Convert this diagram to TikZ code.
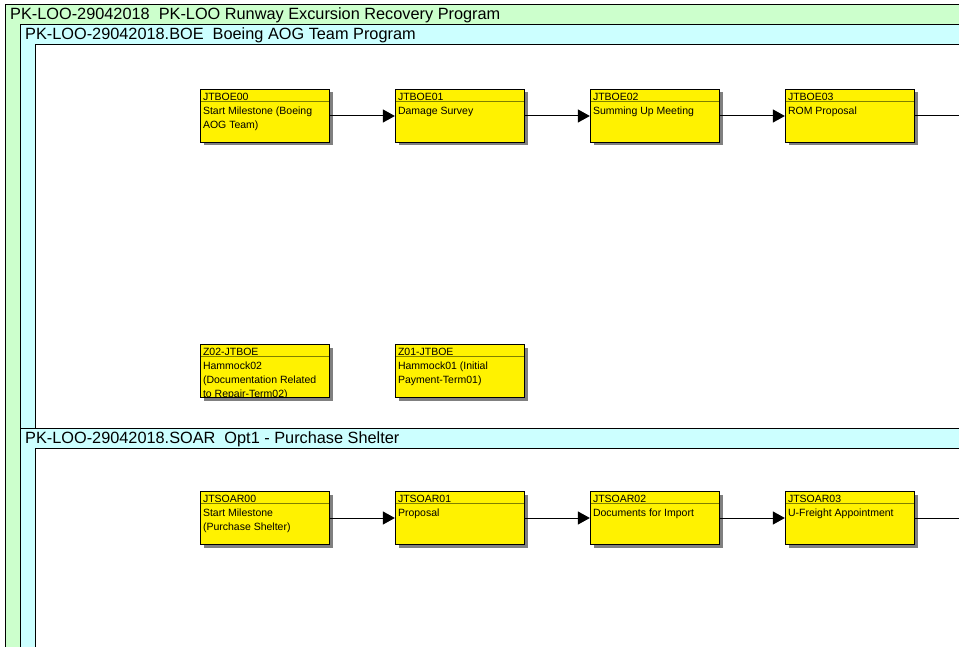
\documentclass[tikz,border=0pt]{standalone}
\usepackage{fontspec}
\setmainfont{Liberation Sans}
\usetikzlibrary{arrows.meta,shadows}
\definecolor{grpgreen}{RGB}{204,255,204}
\definecolor{grpcyan}{RGB}{204,255,255}
\definecolor{hdrolive}{RGB}{128,128,0}
\tikzset{
  frame/.style={draw=black, line width=1pt},
  grptitle/.style={anchor=base west, inner sep=0, font=\fontsize{16.3}{18}\selectfont},
  actbox/.style={draw=black, line width=1.3pt, fill=yellow, minimum width=129pt,
    minimum height=53pt, inner sep=0,
    general shadow={fill=black!50, shadow xshift=3pt, shadow yshift=-3pt}},
  boxtxt/.style={anchor=base west, inner sep=0, font=\fontsize{10.5}{12}\selectfont},
  hdrline/.style={draw=hdrolive, line width=1pt},
  conn/.style={draw=black, line width=1pt, -{Triangle[length=12pt,width=13pt]}},
  plainconn/.style={draw=black, line width=1pt},
}
\newcommand{\mkact}[6]{%
  \node[actbox] (#1) at (#2) {};
  \draw[hdrline] ([shift={(1pt,-13pt)}]#1.north west) -- ([shift={(-1pt,-13pt)}]#1.north east);
  \begin{scope}
    \clip ([shift={(0.7pt,-0.7pt)}]#1.north west) rectangle ([shift={(-0.7pt,0.7pt)}]#1.south east);
    \node[boxtxt] at ([shift={(3pt,-12pt)}]#1.north west) {#3};
    \node[boxtxt] at ([shift={(3pt,-25.5pt)}]#1.north west) {#4};
    \node[boxtxt] at ([shift={(3pt,-39.5pt)}]#1.north west) {#5};
    \node[boxtxt] at ([shift={(3pt,-53.5pt)}]#1.north west) {#6};
  \end{scope}}
\begin{document}
\begin{tikzpicture}[x=1pt,y=-1pt]
  \useasboundingbox (0,0) rectangle (959,647);
  \clip (0,0) rectangle (959,647);
  \fill[white] (0,0) rectangle (959,647);
  % group frames
  \draw[frame, fill=grpgreen] (5,5) rectangle (975,660);
  \draw[frame, fill=grpcyan] (20,25) rectangle (975,428);
  \draw[frame, fill=white] (35,45) rectangle (975,428);
  \draw[frame, fill=grpcyan] (20,428) rectangle (975,660);
  \draw[frame, fill=white] (35,448) rectangle (975,660);
  % group titles
  \node[grptitle] (t0) at (10,20) {PK-LOO-29042018\ \ PK-LOO Runway Excursion Recovery Program};
  \node[grptitle] (t1) at (25,40) {PK-LOO-29042018.BOE\ \ Boeing AOG Team Program};
  \node[grptitle] (t2) at (25,443) {PK-LOO-29042018.SOAR\ \ Opt1 - Purchase Shelter};
  % BOE activities
  \mkact{a0}{265,116}{JTBOE00}{Start Milestone (Boeing}{AOG Team)}{}
  \mkact{a1}{460,116}{JTBOE01}{Damage Survey}{}{}
  \mkact{a2}{655,116}{JTBOE02}{Summing Up Meeting}{}{}
  \mkact{a3}{850,116}{JTBOE03}{ROM Proposal}{}{}
  \mkact{h2}{265,371}{Z02-JTBOE}{Hammock02}{(Documentation Related}{to Repair-Term02)}
  \mkact{h1}{460,371}{Z01-JTBOE}{Hammock01 (Initial}{Payment-Term01)}{}
  % SOAR activities
  \mkact{s0}{265,518}{JTSOAR00}{Start Milestone}{(Purchase Shelter)}{}
  \mkact{s1}{460,518}{JTSOAR01}{Proposal}{}{}
  \mkact{s2}{655,518}{JTSOAR02}{Documents for Import}{}{}
  \mkact{s3}{850,518}{JTSOAR03}{U-Freight Appointment}{}{}
  % connectors
  \coordinate (a3out) at (975,116);
  \coordinate (s3out) at (975,518);
  \draw[conn] (a0.east) -- (a1.west);
  \draw[conn] (a1.east) -- (a2.west);
  \draw[conn] (a2.east) -- (a3.west);
  \draw[plainconn] (a3.east) -- (a3out);
  \draw[conn] (s0.east) -- (s1.west);
  \draw[conn] (s1.east) -- (s2.west);
  \draw[conn] (s2.east) -- (s3.west);
  \draw[plainconn] (s3.east) -- (s3out);
\end{tikzpicture}
\end{document}
